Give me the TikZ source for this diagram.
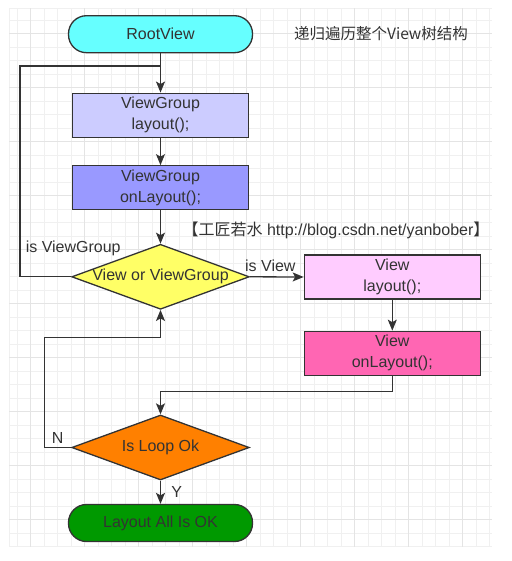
\documentclass[tikz,border=0pt]{standalone}
\usepackage{fontspec}
\setmainfont{Liberation Sans}
\newfontfamily\cjk{Noto Sans CJK SC}
\usepackage{tikz}
\usetikzlibrary{arrows.meta}
\usetikzlibrary{shapes.geometric}
\definecolor{ink}{HTML}{333333}
\definecolor{gridminor}{HTML}{F0F0F0}
\definecolor{gridmajor}{HTML}{E4E4E4}
\definecolor{rootcyan}{HTML}{66FFFF}
\definecolor{vglilac}{HTML}{CCCCFF}
\definecolor{vgblue}{HTML}{9999FF}
\definecolor{chooseyellow}{HTML}{FFFF66}
\definecolor{vpink}{HTML}{FFCCFF}
\definecolor{vhotpink}{HTML}{FF66B3}
\definecolor{looporange}{HTML}{FF8000}
\definecolor{okgreen}{HTML}{009900}
\tikzset{t/.style={font=\fontsize{16}{21}\selectfont, text=ink}}
\tikzset{s/.style={font=\fontsize{16}{18}\selectfont, text=ink}}
\tikzset{box/.style={t, draw=ink, line width=1.3pt, align=center, inner sep=0pt, minimum width=176pt, minimum height=44pt}}
\tikzset{term/.style={box, rounded corners=18pt, minimum width=184pt, minimum height=37pt}}
\tikzset{dia/.style={t, draw=ink, line width=1.3pt, diamond, aspect=2.73, inner sep=0pt, minimum width=177.6pt, minimum height=65pt}}
\tikzset{gl/.style={draw=gridminor, line width=0.9pt}}
\tikzset{gm/.style={draw=gridmajor, line width=0.9pt}}

\begin{document}
\begin{tikzpicture}[x=1pt, y=-1pt, >={Stealth[length=11pt,width=9pt,inset=2.5pt]},
    color=ink, line width=1.3pt]
        \useasboundingbox (0,0) rectangle (511,561);
        % background grid
        \foreach \k in {0,...,35} \draw[gl] ({17.3+13.5*\k},8.3) -- ({17.3+13.5*\k},547);
        \foreach \k in {0,...,39} \draw[gl] (9,{20.3+13.5*\k}) -- (491.7,{20.3+13.5*\k});
        \draw[gl] (9,8.3) -- (9,547);
        \draw[gl] (9,8.3) -- (491.7,8.3);
        \foreach \k in {1,5,...,33} \draw[gm] ({17.3+13.5*\k},8.3) -- ({17.3+13.5*\k},547);
        \foreach \k in {1,5,...,37} \draw[gm] (9,{20.3+13.5*\k}) -- (491.7,{20.3+13.5*\k});

        \node[term, fill=rootcyan] (RV) at (160.5,34.2) {RootView};
        \node[s, font=\cjk\fontsize{15.5}{17}\selectfont] (title) at (381,34) {递归遍历整个View树结构};
        \node[box, fill=vglilac] (VGL) at (160.5,115.2) {ViewGroup\\layout();};
        \node[box, fill=vgblue] (VGO) at (160.5,187.8) {ViewGroup\\onLayout();};
        \node[s] (blog) at (336,230) {{\cjk 【工匠若水} http://blog.csdn.net/yanbober{\cjk 】}};
        \node[dia, fill=chooseyellow] (VVG) at (160.5,276.8) {View or ViewGroup};
        \node[t] (isVG) at (73.2,248.3) {is ViewGroup};
        \node[box, fill=vpink] (VL) at (392.3,277) {View\\layout();};
        \node[box, fill=vhotpink] (VO) at (392.3,353.3) {View\\onLayout();};
        \node[dia, fill=looporange] (LO) at (160.5,447.5) {Is Loop Ok};
        \node[term, fill=okgreen] (OK) at (160.5,523) {Layout All Is OK};
        \coordinate (J1) at (160.5,66);
        \coordinate (J2) at (160.5,337.3);

        \draw[->] (RV) -- (VGL);
        \draw[->] (VGL) -- (VGO);
        \draw[->] (VGO) -- (VVG);
        \draw (VVG.west) -- ++(-51,0) |- (J1);
        \draw[->] (VVG.east) -- node[t, pos=0.38, above=1.5pt] {is View} (VL.west);
        \draw[->] (VL) -- (VO);
        \draw[->] (VO.south) -- ++(0,15.6) -| (LO.north);
        \draw[->] (LO.west) -- ++(-26.7,0) node[t, midway, above] {N} |- (J2) -- (VVG.south);
        \draw[->] (LO) -- node[t, midway, right=7pt] {Y} (OK);
      \end{tikzpicture}
\end{document}
